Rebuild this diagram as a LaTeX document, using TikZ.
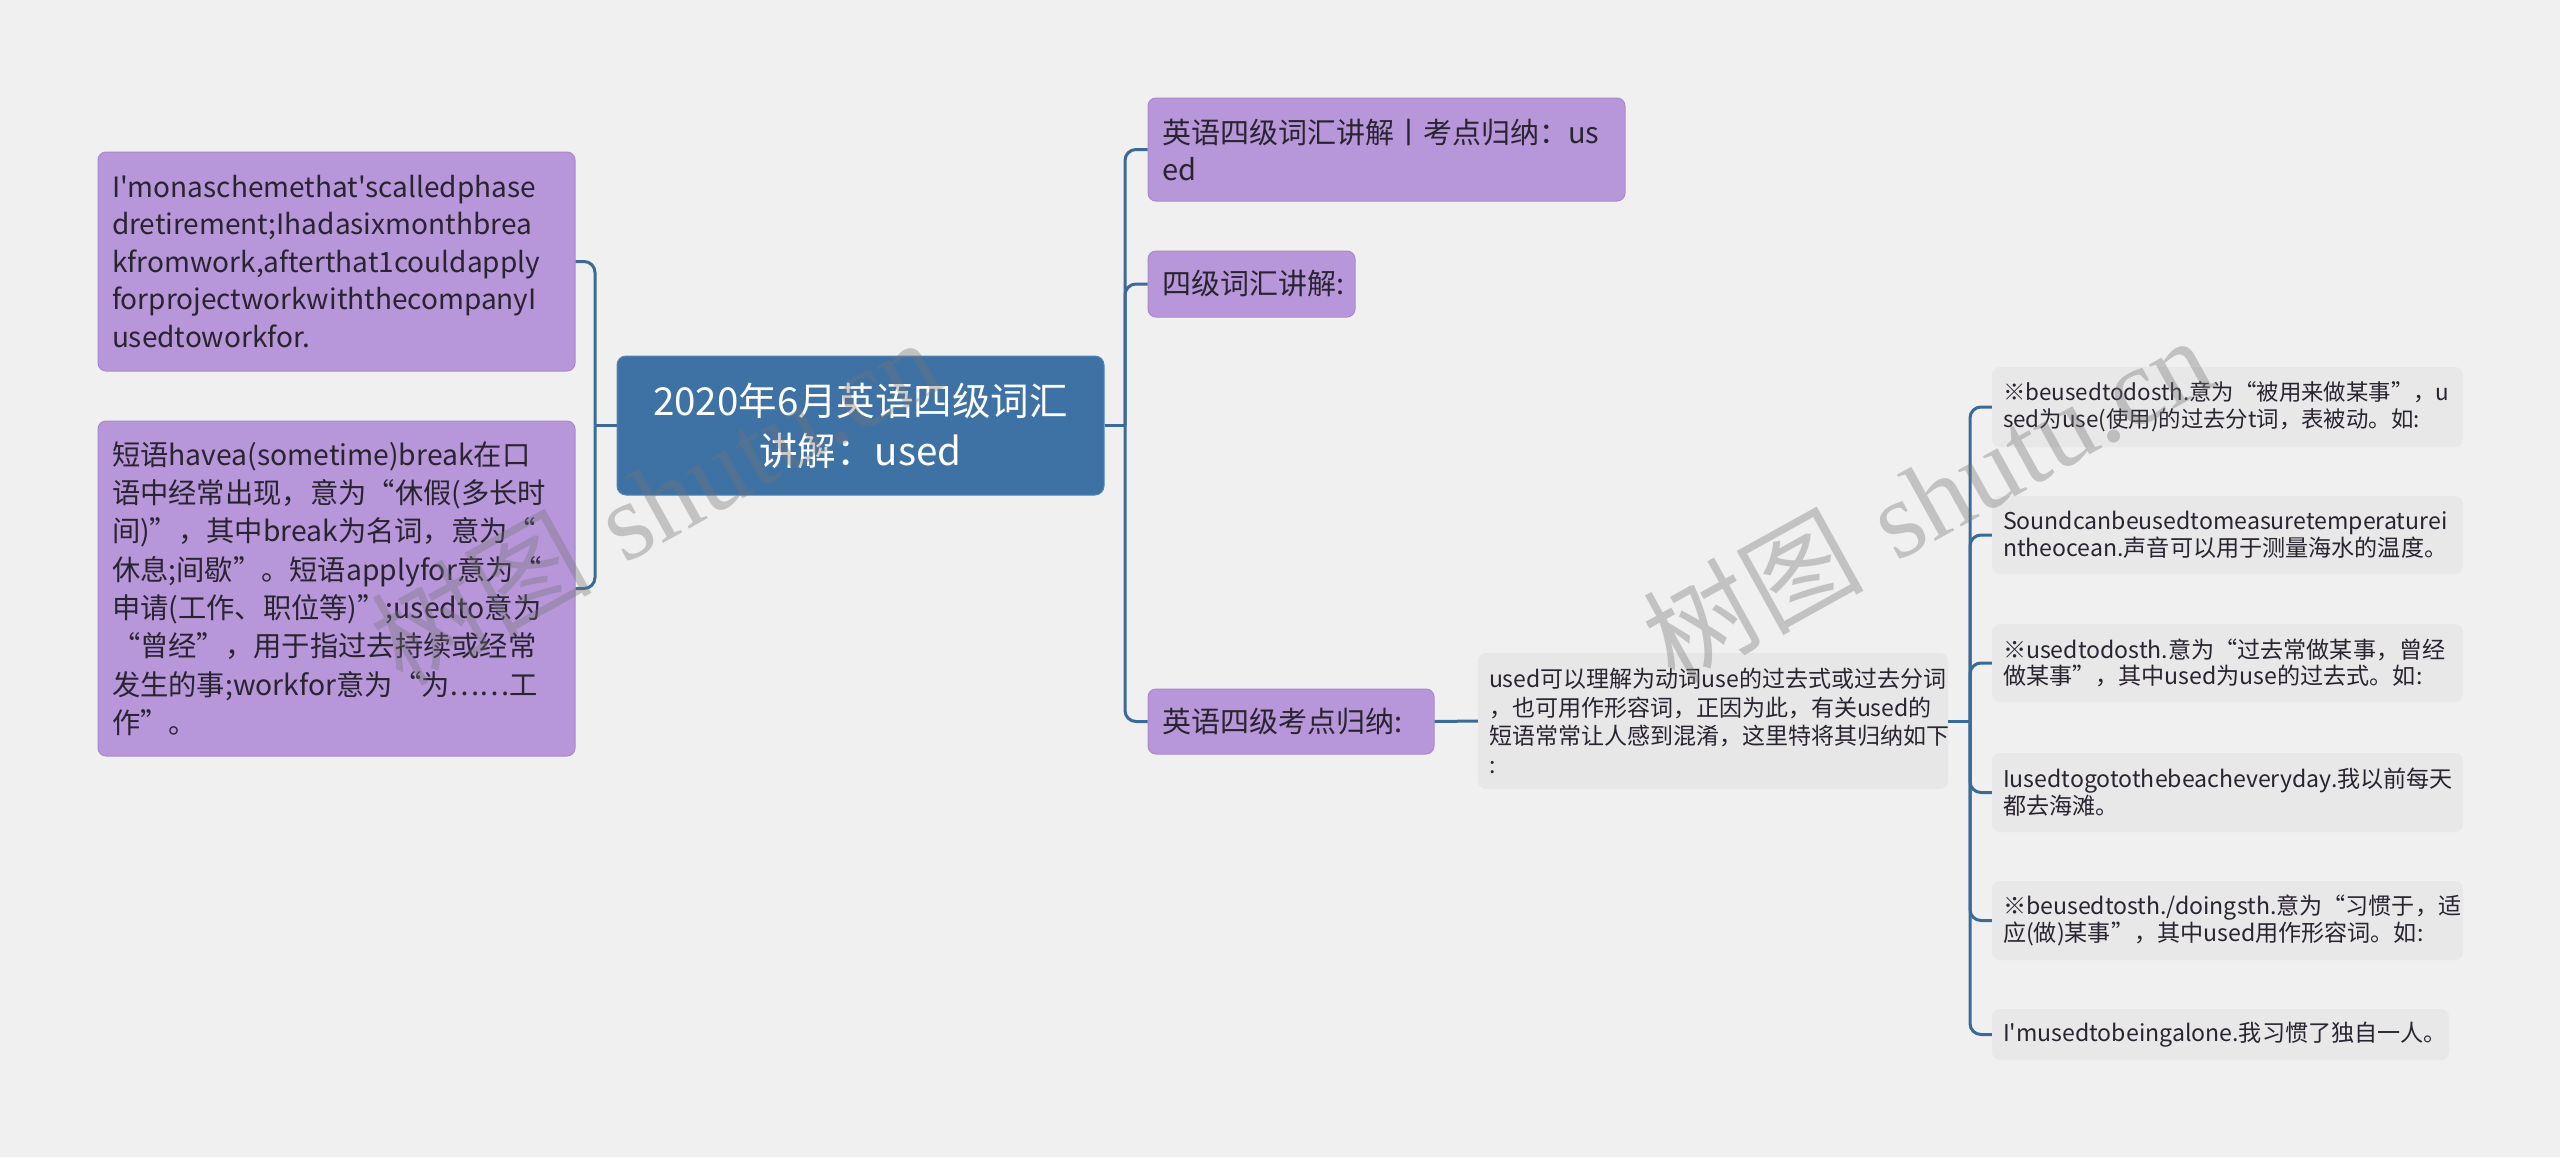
\documentclass[tikz,border=0pt]{standalone}
\usepackage{fontspec}
\newfontfamily\cjk{Noto Sans CJK SC}
\newfontfamily\wmserif{Liberation Serif}
\definecolor{bg}{HTML}{F0F0F0}
\definecolor{purp}{HTML}{B797D9}
\definecolor{purpline}{HTML}{A889CC}
\definecolor{cblue}{HTML}{3E72A5}
\definecolor{cblueline}{HTML}{5485B5}
\definecolor{gbox}{HTML}{E7E7E7}
\definecolor{leafbox}{HTML}{E8E8E8}
\definecolor{conn}{HTML}{3A6A98}
\definecolor{ink}{HTML}{2A2330}
\tikzset{
  pbox/.style={rectangle, rounded corners=8pt, fill=purp, draw=purpline, line width=1pt,
    inner xsep=14pt, inner ysep=0pt, align=left, text=ink},
  cbox/.style={rectangle, rounded corners=9pt, fill=cblue, draw=cblueline, line width=1pt,
    inner sep=0pt, align=center, text=white},
  gbx/.style={rectangle, rounded corners=8pt, fill=gbox, inner xsep=11pt, inner ysep=0pt,
    align=left, text=ink},
  lbx/.style={rectangle, rounded corners=8pt, fill=leafbox, inner xsep=11pt, inner ysep=0pt,
    align=left, text=ink},
  lfont/.style={font=\cjk\fontsize{23.1}{26.8}\selectfont},
  cn/.style={draw=conn, line width=3pt},
  cnr/.style={draw=conn, line width=3pt, rounded corners=11pt},
  wm/.style={text=black!55, opacity=0.36, font=\fontsize{110}{120}\selectfont, inner sep=0pt}
}
\begin{document}
\begin{tikzpicture}[x=1pt,y=-1pt]
\path[use as bounding box, fill=bg] (0,0) rectangle (2560,1157);

% central node
\node[cbox, minimum width=487pt, minimum height=139pt, font=\cjk\fontsize{38.5}{50}\selectfont]
  (c) at (860.5,425.5) {2020年6月英语四级词汇\\讲解：used};

% left nodes
\node[pbox, minimum width=477pt, minimum height=219pt, text width=449pt,
  font=\cjk\fontsize{28}{37.5}\selectfont] (lb1) at (336.5,261.5)
  {I'monaschemethat'scalledphase\\dretirement;Ihadasixmonthbrea\\kfromwork,afterthat1couldapply\\forprojectworkwiththecompanyI\\usedtoworkfor.};
\node[pbox, minimum width=477pt, minimum height=335pt, text width=449pt,
  font=\cjk\fontsize{28.3}{38.3}\selectfont] (lb2) at (336.5,588.5)
  {短语havea(sometime)break在口\\语中经常出现，意为“休假(多长时\\间)”，其中break为名词，意为“\\休息;间歇”。短语applyfor意为“\\申请(工作、职位等)”;usedto意为\\“曾经”，用于指过去持续或经常\\发生的事;workfor意为“为……工\\作”。};

% right nodes
\node[pbox, minimum width=477pt, minimum height=103pt, text width=449pt,
  font=\cjk\fontsize{29}{37}\selectfont] (r1) at (1386.5,149.5)
  {英语四级词汇讲解丨考点归纳：us\\ed};
\node[pbox, minimum width=207pt, minimum height=66pt, text width=179pt,
  font=\cjk\fontsize{29}{37}\selectfont] (r2) at (1251.5,284)
  {四级词汇讲解:};
\node[pbox, minimum width=286pt, minimum height=65pt, text width=258pt,
  font=\cjk\fontsize{29}{37}\selectfont] (r3) at (1291,721.5)
  {英语四级考点归纳:};

\node[gbx, minimum width=470pt, minimum height=136pt, text width=448pt,
  font=\cjk\fontsize{23}{28.4}\selectfont] (t) at (1713,721)
  {used可以理解为动词use的过去式或过去分词\\，也可用作形容词，正因为此，有关used的\\短语常常让人感到混淆，这里特将其归纳如下\\:};

% leaves
\node[lbx, font=\cjk\fontsize{22.4}{26.8}\selectfont, minimum width=471pt, minimum height=80pt, text width=449pt] (l1) at (2227.5,407)
  {※beusedtodosth.意为“被用来做某事”，u\\sed为use(使用)的过去分t词，表被动。如:};
\node[lbx, lfont, minimum width=471pt, minimum height=78pt, text width=449pt] (l2) at (2227.5,535)
  {Soundcanbeusedtomeasuretemperaturei\\ntheocean.声音可以用于测量海水的温度。};
\node[lbx, lfont, minimum width=471pt, minimum height=78pt, text width=449pt] (l3) at (2227.5,663)
  {※usedtodosth.意为“过去常做某事，曾经\\做某事”，其中used为use的过去式。如:};
\node[lbx, lfont, minimum width=471pt, minimum height=79pt, text width=449pt] (l4) at (2227.5,792.5)
  {Iusedtogotothebeacheveryday.我以前每天\\都去海滩。};
\node[lbx, lfont, minimum width=471pt, minimum height=79pt, text width=449pt] (l5) at (2227.5,920.5)
  {※beusedtosth./doingsth.意为“习惯于，适\\应(做)某事”，其中used用作形容词。如:};
\node[lbx, lfont, minimum width=457pt, minimum height=51pt, text width=435pt] (l6) at (2220.5,1034.5)
  {I'musedtobeingalone.我习惯了独自一人。};

% spines
\coordinate (sR) at (1125,425.5);
\coordinate (sL) at (595,425.5);
\coordinate (sT) at (1970,721);

\draw[cn] (c.east) -- (sR);
\draw[cnr] (sR) |- (r1.west);
\draw[cnr] (sR) |- (r2.west);
\draw[cnr] (sR) |- (r3.west);

\draw[cn] (c.west) -- (sL);
\draw[cnr] (sL) |- (lb1.east);
\draw[cnr] (sL) |- (lb2.east);

\draw[cn] (r3.east) -- (t.west);
\draw[cn] (t.east) -- (sT);
\draw[cnr] (sT) |- (l1.west);
\draw[cnr] (sT) |- (l2.west);
\draw[cnr] (sT) |- (l3.west);
\draw[cnr] (sT) |- (l4.west);
\draw[cnr] (sT) |- (l5.west);
\draw[cnr] (sT) |- (l6.west);

% watermarks
\node[wm, rotate=29] (wm1) at (655,500) {{\cjk 树图} {\wmserif shutu.cn}};
\node[wm, rotate=29] (wm2) at (1927,498) {{\cjk 树图} {\wmserif shutu.cn}};
\end{tikzpicture}
\end{document}
